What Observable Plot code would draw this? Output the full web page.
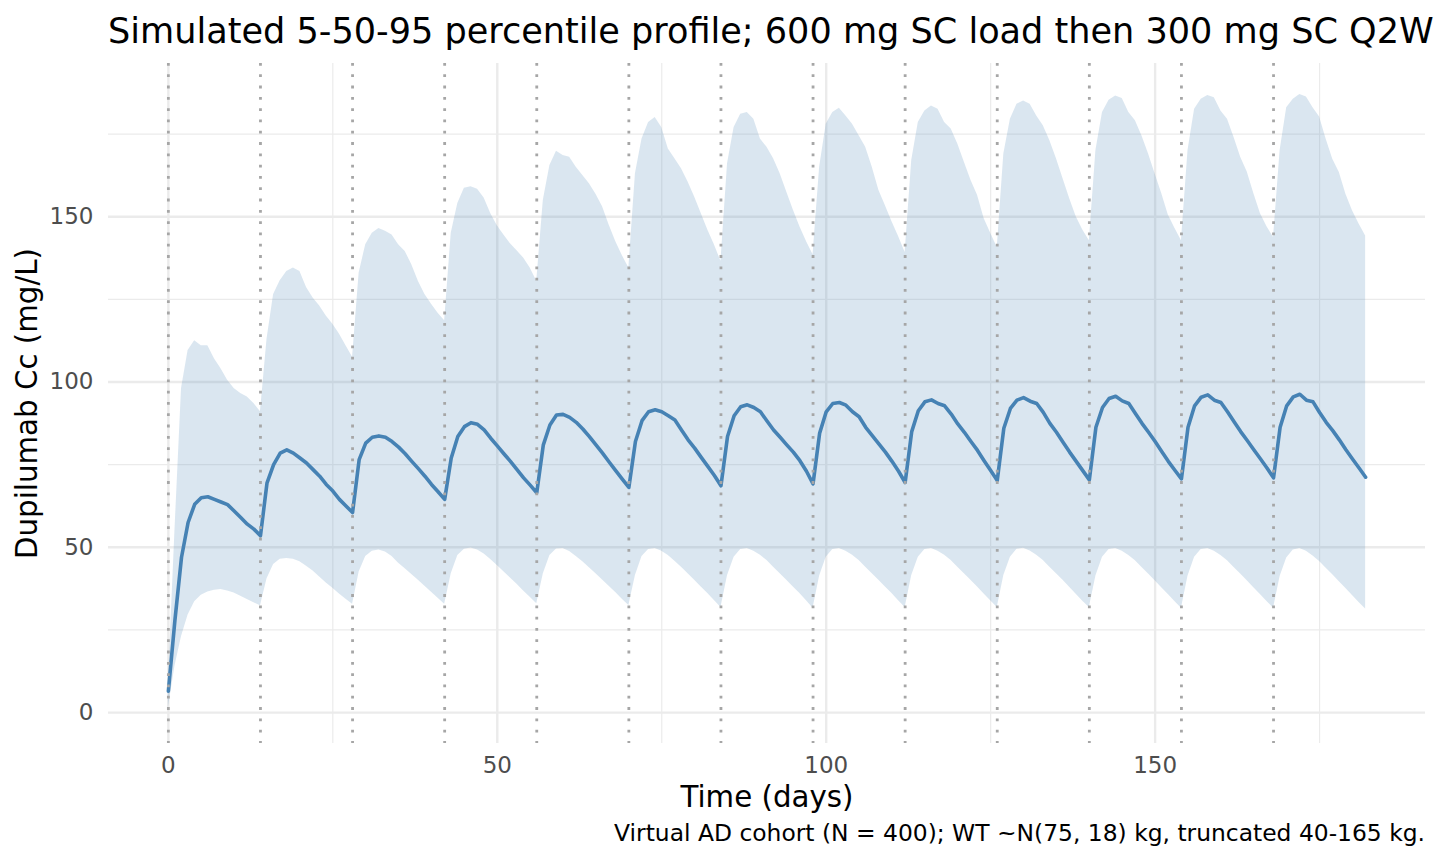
<!DOCTYPE html>
<html>
<head>
<meta charset="utf-8">
<script src="https://cdn.jsdelivr.net/npm/d3@7"></script>
<script src="https://cdn.jsdelivr.net/npm/@observablehq/plot@0.6"></script>
<style>
  html, body { margin: 0; padding: 0; background: #ffffff; }
  body { width: 1440px; height: 864px; overflow: hidden; font-family: "DejaVu Sans", sans-serif; }
  #title { height: 58px; box-sizing: border-box; padding-left: 108px; padding-top: 12.5px;
           font-size: 35.1px; line-height: 35px; color: #000; white-space: nowrap; }
  #chart { height: 762px; }
  #chart svg { display: block; }
  #caption { height: 44px; box-sizing: border-box; padding-right: 15px; padding-top: 2px;
             text-align: right; font-size: 23.4px; line-height: 23px; color: #000; white-space: nowrap; }
</style>
</head>
<body>
<div id="title">Simulated 5-50-95 percentile profile; 600 mg SC load then 300 mg SC Q2W</div>
<div id="chart"></div>
<div id="caption">Virtual AD cohort (N = 400); WT ~N(75, 18) kg, truncated 40-165 kg.</div>
<script>
// Dose days (vertical dotted lines)
const doseDays = [0, 14, 28, 42, 56, 70, 84, 98, 112, 126, 140, 154, 168];

// Median (50th percentile) concentration, mg/L, days 0..182
const med = [
  6.5,28,47,57.5,63,65,65.3,64.5,63.7,62.9,61,59,57,55.5,53.5,
  69.5,75,78.5,79.5,78.5,77,75.5,73.5,71.5,69,67,64.5,62.5,60.5,
  76.5,81.5,83.3,83.7,83.3,82,80.3,78.3,76,73.8,71.5,69,66.8,64.5,
  77,83.5,86.5,87.7,87.2,85.5,83,80.7,78.3,76,73.5,71,68.8,66.5,
  81,87,90,90.2,89.3,87.8,85.8,83.5,81,78.5,75.8,73.2,70.6,68.1,
  82,88.3,91,91.6,91,89.8,88.5,85.5,82.5,80,77.2,74.5,71.7,68.6,
  83.5,89.8,92.5,93.1,92.3,91,88.2,85.5,83.3,81,78.8,76.2,73,69.2,
  84.5,91,93.5,93.8,93,91,89.5,86.3,83.8,81.3,78.8,76,73,69.6,
  85,91.3,94,94.6,93.5,92.8,90.3,87.3,84.8,82,79.3,76.2,73.2,70.2,
  86,92,94.5,95.3,94.2,93.5,90.8,87.5,84.8,81.8,78.8,76,73.2,70.4,
  86.3,92.3,95,95.7,94.3,93.5,90.5,87.5,84.8,82,79,76,73.3,70.7,
  86.3,92.8,95.4,96.1,94.5,93.8,91,88,85,82.3,79.5,76.8,74,71,
  86.3,92.8,95.5,96.3,94.5,94,90.8,87.8,85.3,82.5,79.5,76.7,74,71.2
];

// 5th percentile
const lo = [
  1.5,14,23,29.5,33.5,35.5,36.5,37,37.2,36.8,36.2,35.2,34.2,33.2,32.3,
  40.5,44.8,46.4,46.6,46.4,45.6,44.3,42.8,41,39.2,37.6,35.9,34.3,32.8,
  42.5,47.2,48.8,49.2,48.6,47.2,45.2,43.5,41.8,40,38.2,36.4,34.6,32.8,
  42,47.5,49.4,49.8,49.2,48,46.3,44.5,42.6,40.7,38.8,36.8,34.9,32.9,
  42,47.5,49.5,49.6,48.7,47.2,45.6,43.8,42,40.1,38.2,36.3,34.3,32.4,
  41.5,47.2,49.3,49.6,48.8,47.5,45.8,44,42,40,38,36,33.9,31.8,
  41.5,47,49.3,49.6,48.8,47.6,46,44,42,40,38,36,33.8,31.6,
  41.3,47,49.3,49.6,48.8,47.6,46,44,42,40,38,36,33.8,31.8,
  41.5,47,49.3,49.6,48.8,47.6,46,44,42,40,38,35.9,33.8,31.8,
  41.5,47,49.4,49.7,48.9,47.6,46,44,42,40,37.9,35.8,33.7,31.8,
  41.3,47,49.3,49.6,48.8,47.5,45.9,43.9,41.9,39.9,37.8,35.7,33.6,31.6,
  41.3,47,49.3,49.6,48.8,47.5,45.9,43.9,41.9,39.9,37.8,35.7,33.6,31.6,
  41.2,46.8,49.2,49.6,48.8,47.4,45.7,43.7,41.7,39.6,37.5,35.4,33.3,31.3
];

// 95th percentile
const hi = [
  9,55,98,109.5,112.5,111,111,107,104,100.5,98,96.5,95.5,93.5,91,
  113,126.5,130.6,133.4,134.5,133.4,128.6,125.4,123,120,117.5,114.5,111,107.5,
  133,141.5,145,146.4,145.6,144.5,141.5,139.5,135.5,130.5,126.5,123.5,120.8,118.5,
  145,154,158.6,159.1,158.3,155.7,151,147.3,144.5,141.8,139.7,137.5,134.5,130.5,
  155,165.5,169.8,168.5,168,165,162.5,160,156.8,153,147.5,142.5,138.3,134.5,
  163,173.5,178.5,180,177,170.5,167.5,164.5,160.5,156,151,146,141.5,136.5,
  166,177,181,181.5,179.5,173.5,171,167.5,163,157.5,152,147,142.5,138.5,
  165,178,181.5,182.8,180.5,178,174.5,171,165,158,153.3,148.5,144,139.2,
  167,178.5,182,183.5,182.5,178.5,176.5,172,166.5,161,156.5,149.5,145,140.7,
  169,179.5,184,185,184,180.5,177.5,173,167.5,161.5,155.5,150,146,142.7,
  170,181.5,185.2,186.5,185.8,181.5,179,174.4,169,162.9,157,150.5,146.5,142.7,
  170,182.5,185.5,186.7,186,182,179.5,174,168,163.5,157,151,147,143.7,
  170,183,185.5,187,186.2,183,180.2,173.4,167.4,163.4,156.8,151.8,147.8,144.2
];

const xMajor = [0, 50, 100, 150];
const xMinor = [25, 75, 125, 175];
const yMajor = [0, 50, 100, 150];
const yMinor = [25, 75, 125, 175];

const xLabel = "Time (days)";
const yLabel = "Dupilumab Cc (mg/L)";

// sampling grid: one row per simulated day
const rows = med.map((m, i) => ({ day: i, med: m, lo: lo[i], hi: hi[i] }));

const grid = "#ebebeb";
const blue = "#4682b4";

const chart = Plot.plot({
  width: 1440,
  height: 762,
  marginLeft: 108,
  marginRight: 15,
  marginTop: 5,
  marginBottom: 77,
  style: { fontFamily: "DejaVu Sans, sans-serif", background: "#ffffff" },
  x: { domain: [-9.1, 191.1] },
  y: { domain: [-9.35, 196.35] },
  marks: [
    Plot.ruleX(xMinor, { stroke: grid, strokeWidth: 1.2 }),
    Plot.ruleY(yMinor, { stroke: grid, strokeWidth: 1.2 }),
    Plot.ruleX(xMajor, { stroke: grid, strokeWidth: 2.4 }),
    Plot.ruleY(yMajor, { stroke: grid, strokeWidth: 2.4 }),
    Plot.areaY(rows, { x: "day", y1: "lo", y2: "hi", fill: blue, fillOpacity: 0.2 }),
    Plot.line(rows, { x: "day", y: "med", stroke: blue, strokeWidth: 3.6, strokeLinejoin: "round" }),
    Plot.ruleX(doseDays, { stroke: "#a6a6a6", strokeWidth: 2.8, strokeDasharray: "2.8,8.5" }),
    Plot.axisX({ ticks: xMajor, tickSize: 0, tickPadding: 13, fontSize: 23, color: "#4d4d4d", label: null, tickFormat: d => String(d) }),
    Plot.axisY({ ticks: yMajor, tickSize: 0, tickPadding: 15, fontSize: 23, color: "#4d4d4d", label: null, tickFormat: d => String(d) }),
    Plot.text([xLabel], { frameAnchor: "bottom", lineAnchor: "bottom", dy: 63, fontSize: 29.3, fill: "#000" }),
    Plot.text([yLabel], { frameAnchor: "left", rotate: -90, dx: -81, lineAnchor: "middle", textAnchor: "middle", fontSize: 29.3, fill: "#000" })
  ]
});
document.getElementById("chart").appendChild(chart);
</script>
</body>
</html>
